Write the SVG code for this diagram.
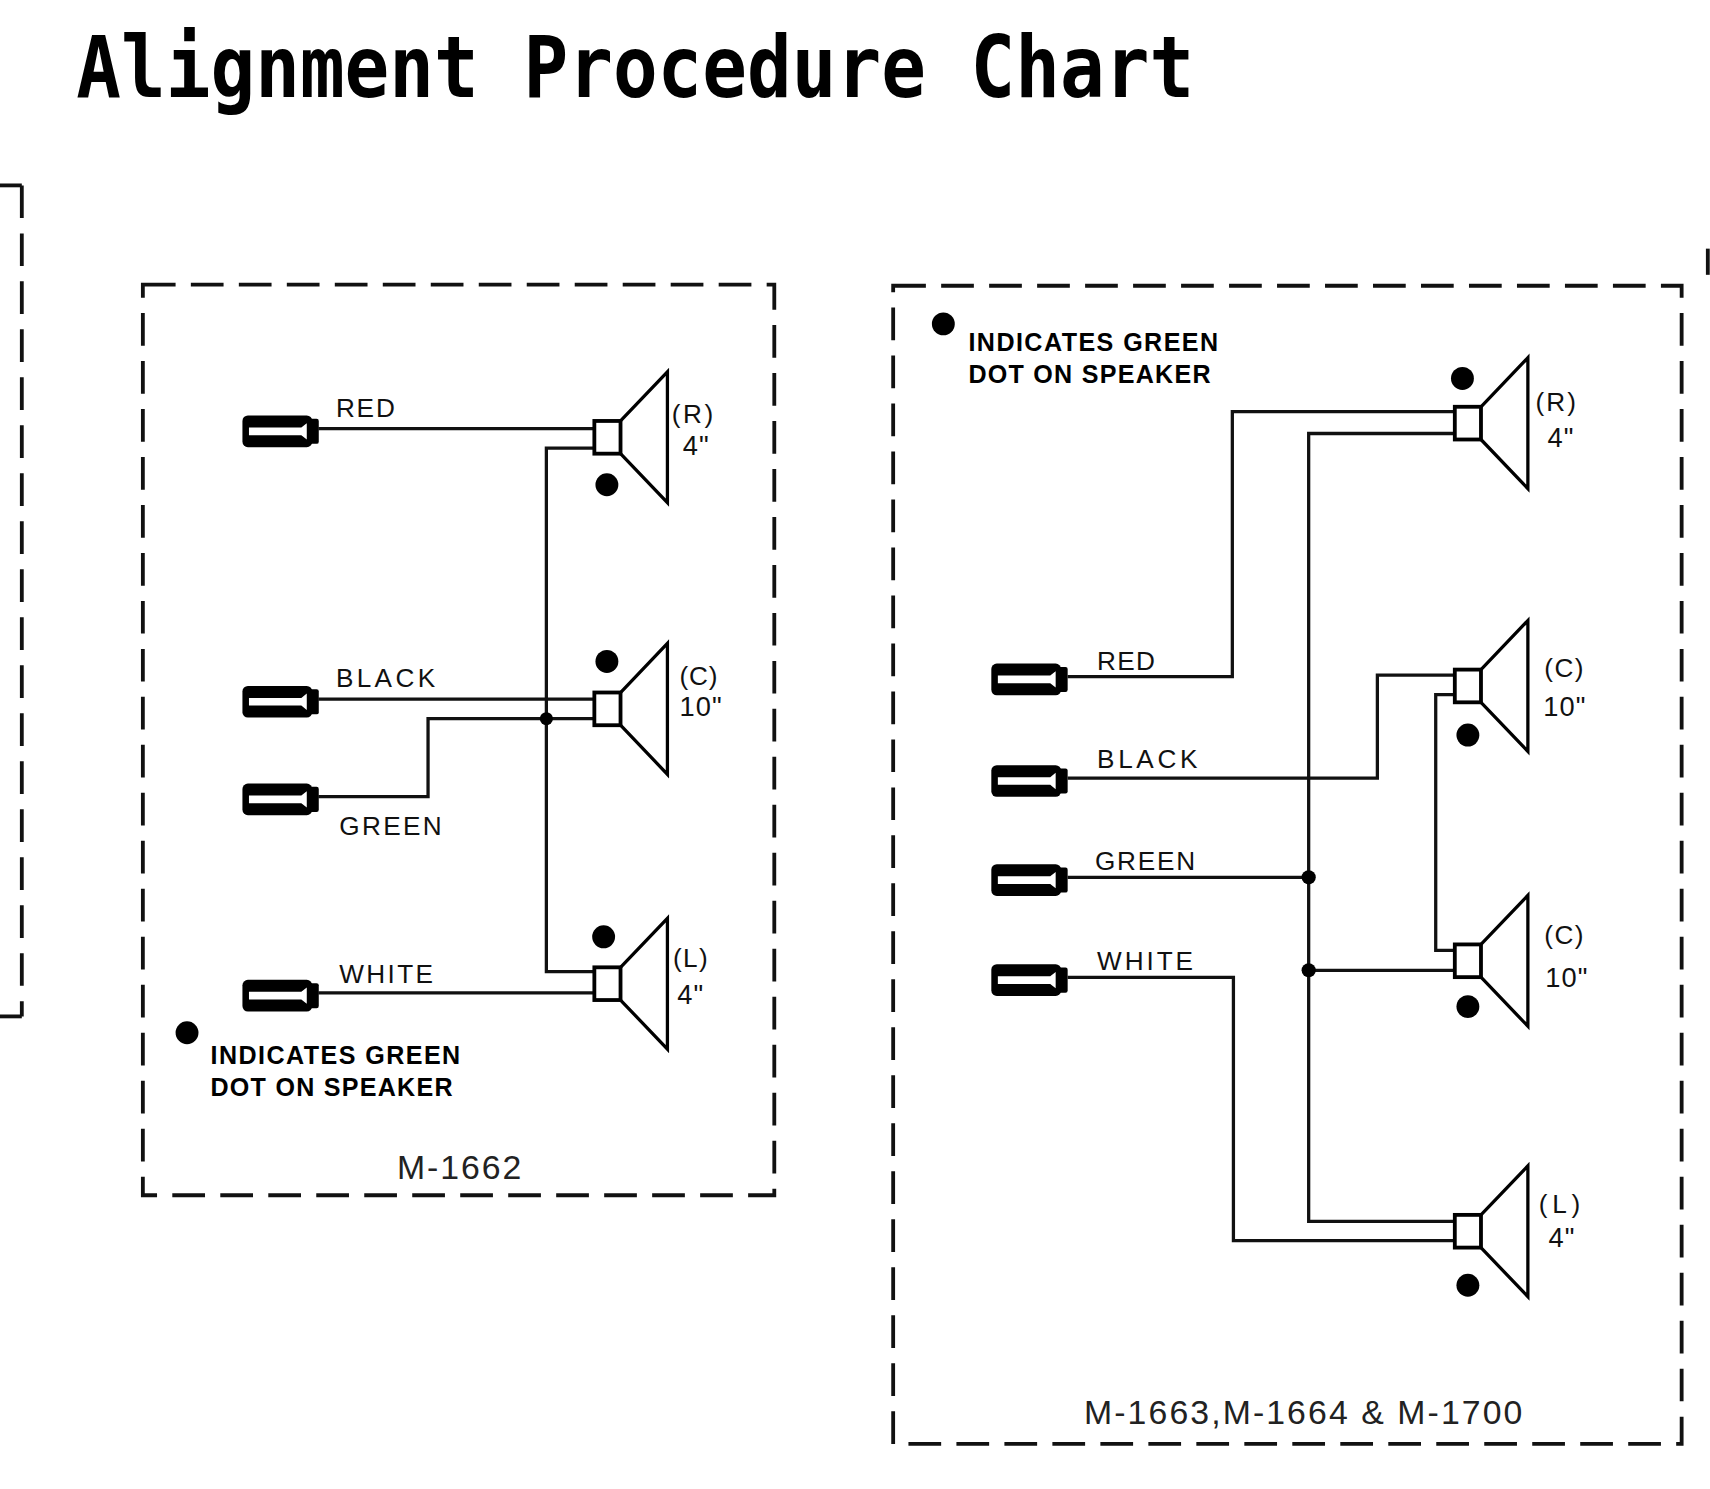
<svg xmlns="http://www.w3.org/2000/svg" width="1710" height="1489" viewBox="0 0 1710 1489">
<defs>
<style>
.box{fill:none;stroke:#111;stroke-width:3.5;stroke-dasharray:30 14}
.edge{fill:none;stroke:#111;stroke-width:3.5}
.wire{fill:none;stroke:#111;stroke-width:3}
.lbl{font-family:"Liberation Sans",Arial,sans-serif;font-size:24px;fill:#111}
.sz{font-family:"Liberation Sans",Arial,sans-serif;font-size:25px;fill:#111;letter-spacing:1px}
.leg{font-family:"Liberation Sans",Arial,sans-serif;font-size:23px;font-weight:bold;fill:#000}
.model{font-family:"Liberation Sans",Arial,sans-serif;font-size:31px;fill:#222}
.title{font-family:"DejaVu Sans Mono","Liberation Mono",monospace;font-size:78px;font-weight:bold;fill:#000}
.dot{fill:#000}
</style>
<g id="plug">
<rect x="-70" y="-12" width="64" height="29" rx="5" fill="#000"/>
<rect x="-9" y="-9" width="9" height="23" rx="2" fill="#000"/>
<path d="M-64,-1 H-16 L-11,-5 V10 L-16,6 H-64 Z" fill="#fff"/>
</g>
<g id="spk">
<rect x="0" y="-15" width="24" height="30" fill="#fff" stroke="#000" stroke-width="3.5"/>
<path d="M24,-15 L67,-60 V60 L24,15" fill="none" stroke="#000" stroke-width="3"/>
</g>
</defs>
<rect width="1710" height="1489" fill="#fff"/>
<g transform="scale(1.09056)">
<text class="title" x="70" y="89" textLength="1025" lengthAdjust="spacingAndGlyphs">Alignment Procedure Chart</text>

<g id="frame-partial">
<path class="edge" d="M0,170 H20"/>
<path class="box" d="M20,170 V932"/>
<path class="edge" d="M0,932 H20"/>
<path class="edge" d="M1566,228 V252"/>
</g>

<g id="box-m1662">
<rect class="box" x="131" y="261" width="579" height="835"/>
<text class="model" x="364" y="1081" textLength="114">M-1662</text>
</g>

<g id="box-m1663">
<rect class="box" x="819" y="262" width="723" height="1062"/>
<text class="model" x="994" y="1306" textLength="402">M-1663,M-1664 &amp; M-1700</text>
</g>

<g id="connectors">
<path class="wire" d="M292,393 H545"/>
<path class="wire" d="M545,411 H501 V891 H545"/>
<path class="wire" d="M292,641 H545"/>
<path class="wire" d="M292,730.5 H392.5 V659 H545"/>
<path class="wire" d="M292,910.5 H545"/>
<circle class="dot" cx="501" cy="659" r="6"/>

<path class="wire" d="M979,620.5 H1130 V377.5 H1334"/>
<path class="wire" d="M1334,397.5 H1200 V1120 H1334"/>
<path class="wire" d="M979,713.6 H1263 V619 H1334"/>
<path class="wire" d="M1334,637 H1316.5 V871.5 H1334"/>
<path class="wire" d="M979,804.5 H1200"/>
<path class="wire" d="M979,896.2 H1131 V1137.5 H1334"/>
<path class="wire" d="M1200,889.7 H1334"/>
<circle class="dot" cx="1200" cy="804.5" r="6.5"/>
<circle class="dot" cx="1200" cy="889.7" r="6.5"/>
</g>

<g id="left-plug-red"><use href="#plug" x="292.3" y="393"/><text class="lbl" x="308" y="382" textLength="54">RED</text></g>
<g id="left-plug-black"><use href="#plug" x="292.3" y="641"/><text class="lbl" x="308" y="630" textLength="91">BLACK</text></g>
<g id="left-plug-green"><use href="#plug" x="292.3" y="730.5"/><text class="lbl" x="311" y="765.5" textLength="94">GREEN</text></g>
<g id="left-plug-white"><use href="#plug" x="292.3" y="910.5"/><text class="lbl" x="311" y="901" textLength="86">WHITE</text></g>

<g id="left-spk-r"><use href="#spk" x="545" y="401"/><circle class="dot" cx="556.5" cy="444.5" r="10.5"/>
<text class="lbl" x="616" y="388" textLength="38">(R)</text><text class="sz" x="626" y="417">4"</text></g>
<g id="left-spk-c"><use href="#spk" x="545" y="650"/><circle class="dot" cx="556.5" cy="606.5" r="10.5"/>
<text class="lbl" x="623" y="628" textLength="35">(C)</text><text class="sz" x="623" y="657">10"</text></g>
<g id="left-spk-l"><use href="#spk" x="545" y="902"/><circle class="dot" cx="553.5" cy="859" r="10.5"/>
<text class="lbl" x="617" y="887" textLength="32">(L)</text><text class="sz" x="621" y="921">4"</text></g>

<g id="left-legend"><circle class="dot" cx="171.5" cy="947" r="10.5"/>
<text class="leg" x="193" y="976" textLength="229">INDICATES GREEN</text>
<text class="leg" x="193" y="1005" textLength="222">DOT ON SPEAKER</text></g>

<g id="right-legend"><circle class="dot" cx="865" cy="297" r="10.5"/>
<text class="leg" x="888" y="322" textLength="229">INDICATES GREEN</text>
<text class="leg" x="888" y="351" textLength="222">DOT ON SPEAKER</text></g>

<g id="right-plug-red"><use href="#plug" x="979" y="620.5"/><text class="lbl" x="1006" y="614" textLength="53">RED</text></g>
<g id="right-plug-black"><use href="#plug" x="979" y="713.6"/><text class="lbl" x="1006" y="704" textLength="92">BLACK</text></g>
<g id="right-plug-green"><use href="#plug" x="979" y="804.5"/><text class="lbl" x="1004" y="798" textLength="92">GREEN</text></g>
<g id="right-plug-white"><use href="#plug" x="979" y="896.2"/><text class="lbl" x="1006" y="889" textLength="88">WHITE</text></g>

<g id="right-spk-r"><use href="#spk" x="1334" y="388"/><circle class="dot" cx="1341" cy="347" r="10.5"/>
<text class="lbl" x="1408" y="377" textLength="37">(R)</text><text class="sz" x="1419" y="410">4"</text></g>
<g id="right-spk-c1"><use href="#spk" x="1334" y="629"/><circle class="dot" cx="1346" cy="674" r="10.5"/>
<text class="lbl" x="1416" y="621" textLength="36">(C)</text><text class="sz" x="1415" y="657">10"</text></g>
<g id="right-spk-c2"><use href="#spk" x="1334" y="881"/><circle class="dot" cx="1346" cy="923" r="10.5"/>
<text class="lbl" x="1416" y="866" textLength="36">(C)</text><text class="sz" x="1417" y="905">10"</text></g>
<g id="right-spk-l"><use href="#spk" x="1334" y="1129"/><circle class="dot" cx="1346" cy="1178.5" r="10.5"/>
<text class="lbl" x="1411" y="1112" textLength="38">(L)</text><text class="sz" x="1420" y="1143">4"</text></g>
</g>
</svg>
